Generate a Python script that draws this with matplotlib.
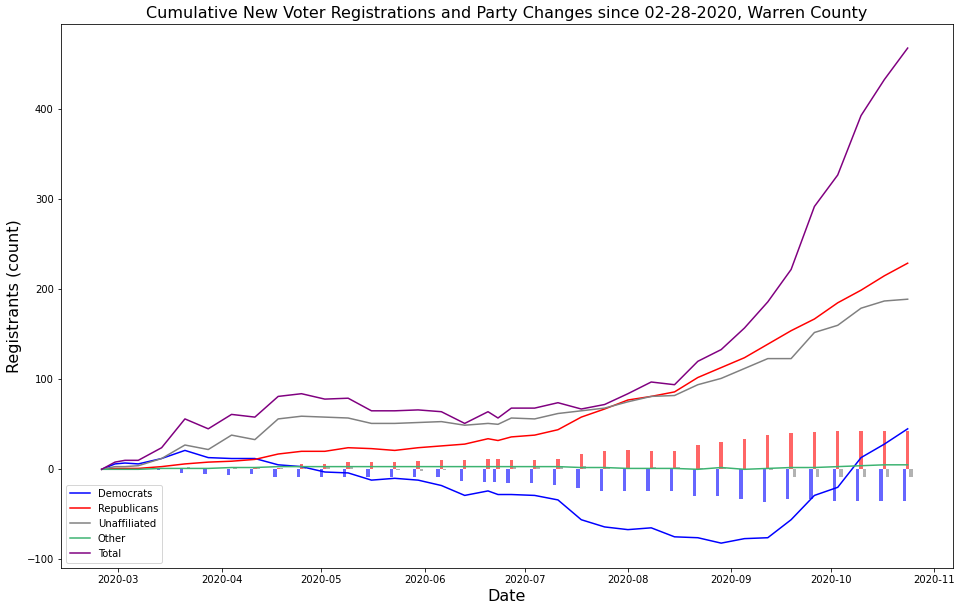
import numpy as np
import pandas as pd
import matplotlib
matplotlib.use('Agg')
import matplotlib.pyplot as plt

# report dates (weekly, plus a few extra early/mid points)
dates = pd.to_datetime([
    '2020-02-25', '2020-02-29', '2020-03-03', '2020-03-07', '2020-03-14',
    '2020-03-21', '2020-03-28', '2020-04-04', '2020-04-11', '2020-04-18',
    '2020-04-25', '2020-05-02', '2020-05-09', '2020-05-16', '2020-05-23',
    '2020-05-30', '2020-06-06', '2020-06-13', '2020-06-20', '2020-06-23',
    '2020-06-27', '2020-07-04', '2020-07-11', '2020-07-18', '2020-07-25',
    '2020-08-01', '2020-08-08', '2020-08-15', '2020-08-22', '2020-08-29',
    '2020-09-05', '2020-09-12', '2020-09-19', '2020-09-26', '2020-10-03',
    '2020-10-10', '2020-10-17', '2020-10-24'])

# cumulative registrations by party
dem = [0, 6, 7, 6, 12, 21, 13, 12, 12, 5, 3, -3, -4, -12, -10, -12, -18, -29, -24, -28,
       -28, -29, -34, -56, -64, -67, -65, -75, -76, -82, -77, -76, -56, -29, -20, 13, 28, 45]
rep = [0, 1, 1, 1, 3, 6, 8, 9, 11, 17, 20, 20, 24, 23, 21, 24, 26, 28, 34, 32,
       36, 38, 44, 58, 67, 77, 81, 86, 102, 113, 124, 139, 154, 167, 185, 199, 215, 229]
una = [0, 3, 3, 4, 12, 27, 22, 38, 33, 56, 59, 58, 57, 51, 51, 52, 53, 49, 51, 50,
       57, 56, 62, 65, 68, 75, 81, 82, 94, 101, 112, 123, 123, 152, 160, 179, 187, 189]
oth = [0, 0, 0, 0, 1, 1, 1, 2, 2, 3, 3, 3, 3, 3, 3, 3, 3, 3, 3, 3,
       3, 3, 3, 2, 2, 1, 1, 1, 0, 2, 0, 1, 2, 2, 3, 4, 5, 5]
total = [0, 8, 10, 10, 24, 56, 45, 61, 58, 81, 84, 78, 79, 65, 65, 66, 64, 51, 64, 57,
         68, 68, 74, 67, 72, 84, 97, 94, 120, 133, 157, 186, 222, 292, 327, 393, 433, 468]

# cumulative party changes (bars)
dem_chg = [0, 0, 0, 0, -1, -4, -5, -6, -5, -8, -9, -9, -9, -9, -9, -9, -9, -13, -14, -14,
           -15, -15, -17, -21, -24, -24, -24, -24, -30, -30, -33, -36, -33, -33, -35, -35, -35, -35]
rep_chg = [0, 0, 0, 0, 0, 1, 0, 0, 1, 1, 6, 6, 8, 8, 8, 9, 10, 10, 11, 11,
           10, 10, 11, 17, 20, 21, 20, 20, 27, 30, 34, 38, 40, 41, 43, 43, 43, 43]
una_chg = [0, 0, 0, 0, 0, 3, 1, 3, 2, 2, 2, 4, 3, 0, -1, -2, -1, 0, 0, 0,
           3, 3, 4, 4, 3, 1, 3, 3, 2, 1, 0, -1, -8, -8, -8, -8, -8, -8]

W, H = 962, 611
fig = plt.figure(figsize=(W / 72, H / 72), dpi=72)
ax = fig.add_axes([60.7 / W, 1 - 567.7 / H, 892.6 / W, 543.4 / H])

day = pd.Timedelta(days=1)
ax.bar(dates - day, dem_chg, width=1, color='blue', alpha=0.6)
ax.bar(dates, rep_chg, width=1, color='red', alpha=0.6)
ax.bar(dates + day, una_chg, width=1, color='gray', alpha=0.6)

ax.plot(dates, dem, color='blue', label='Democrats')
ax.plot(dates, rep, color='red', label='Republicans')
ax.plot(dates, una, color='gray', label='Unaffiliated')
ax.plot(dates, oth, color='mediumseagreen', label='Other')
ax.plot(dates, total, color='purple', label='Total')

mar1 = pd.Timestamp('2020-03-01')
ax.set_xlim(mar1 - 17.3 * day, mar1 + 250.7 * day)
ax.set_ylim(-109.3, 494.4)

ax.set_title('Cumulative New Voter Registrations and Party Changes since 02-28-2020, Warren County',
             fontsize=16)
ax.set_xlabel('Date', fontsize=16)
ax.set_ylabel('Registrants (count)', fontsize=16)
ax.legend(loc='lower left')

fig.savefig('out.png', dpi=72)
